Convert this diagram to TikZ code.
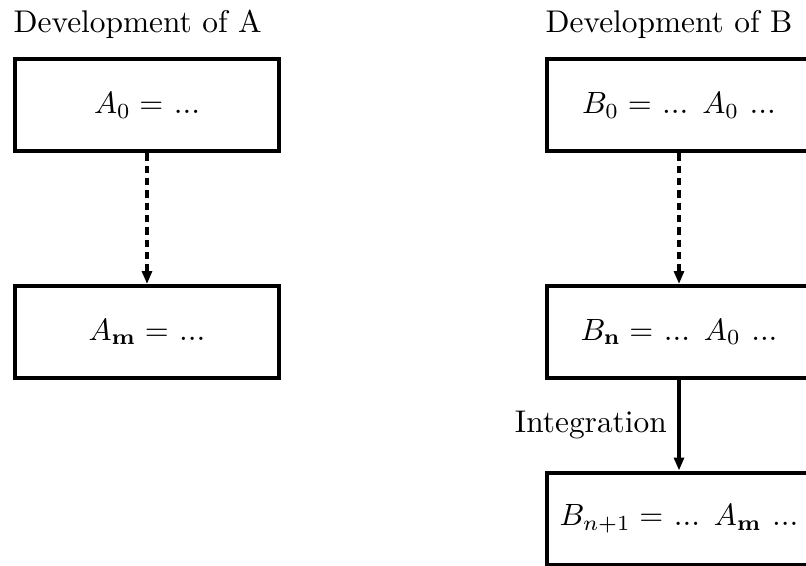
\documentclass[tikz,border=0pt]{standalone}
\usetikzlibrary{arrows.meta}
\begin{document}
\begin{tikzpicture}[x=0.325pt,y=-0.325pt,
  every node/.style={font=\fontsize{10.2pt}{12pt}\selectfont},
  stagebox/.style={draw,line width=1.3pt,minimum width=86.1pt,minimum height=29.9pt,inner sep=0pt},
  heading/.style={anchor=base west,inner sep=0pt},
  flow/.style={line width=1.3pt,-{Triangle[length=4.2pt,width=3.2pt]}},
  dashflow/.style={flow,dash pattern=on 2.4pt off 1.6pt}]
  \useasboundingbox (0,0) rectangle (806,566);
  % column headings
  \node[heading] (ha) at (13,33) {Development of A};
  \node[heading] (hb) at (545,33) {Development of B};
  % development of A
  \node[stagebox] (a0) at (147,105.5) {$A_0 =$ ...};
  \node[stagebox] (am) at (147,332) {$A_{\mathbf{m}} =$ ...};
  % development of B
  \node[stagebox] (b0) at (679,105.5) {$B_0 =$ ... $A_0$ ...};
  \node[stagebox] (bn) at (679,332) {$B_{\mathbf{n}} =$ ... $A_0$ ...};
  \node[stagebox] (bn1) at (679,518.5) {$B_{n+1} =$ ... $A_{\mathbf{m}}$ ...};
  % connectors
  \draw[dashflow] (a0) -- (am);
  \draw[dashflow] (b0) -- (bn);
  \draw[flow] (bn) -- node[left] {Integration} (bn1);
\end{tikzpicture}
\end{document}
